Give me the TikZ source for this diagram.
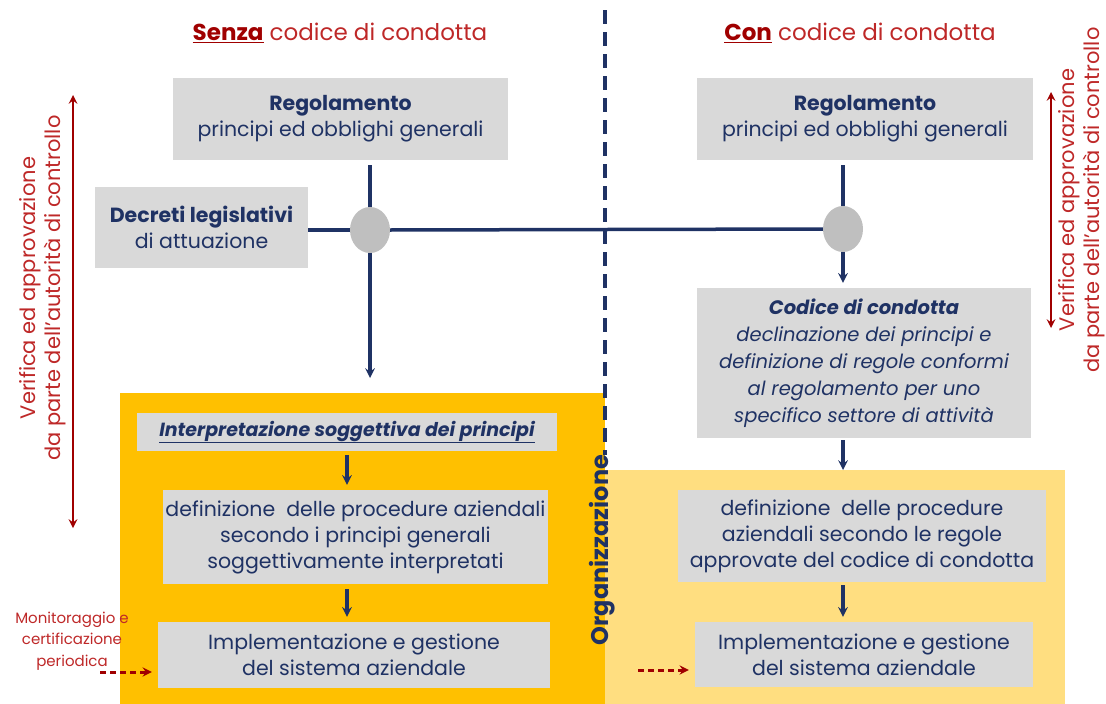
\documentclass[tikz,border=0pt]{standalone}
\usepackage{fontspec}
\setmainfont{Poppins}
\usepackage{tikz}
\usetikzlibrary{positioning, arrows, shapes.geometric}
\definecolor{navy}{RGB}{31,50,100}
\definecolor{boxgrey}{RGB}{217,217,217}
\definecolor{hubgrey}{RGB}{191,191,191}
\definecolor{darkred}{RGB}{160,0,0}
\definecolor{softred}{RGB}{190,40,40}
\definecolor{gold}{RGB}{255,192,0}
\definecolor{paleyellow}{RGB}{255,222,128}
\tikzset{
    x=1pt, y=-1pt, % one unit is one pixel of the layout
    >=stealth, % makes the arrow heads bold
    box/.style={fill=boxgrey, text=navy, align=center, inner sep=0pt, font=\fontsize{20.5}{26}\selectfont}, % grey text boxes
    hub/.style={ellipse, fill=hubgrey, minimum width=40, minimum height=46, inner sep=0pt},
    link/.style={navy, line width=3.5pt},
    flow/.style={->, navy, line width=3.2pt},
    check/.style={<->, darkred, line width=2.8pt},
    monitor/.style={->, darkred, line width=3pt, dash pattern=on 6pt off 4pt},
}
\begin{document}
\begin{tikzpicture}
\useasboundingbox (0,0) rectangle (1106,704);
% coloured areas
\fill[gold] (120,393) rectangle (605,704);
\fill[paleyellow] (605,470) rectangle (1065,704);
\draw[navy, line width=3.2pt, dash pattern=on 14pt off 8pt] (605,10) -- (605,455);

% titles
\node[text=softred, font=\fontsize{23}{27}\selectfont] (titleL) at (340,33) {\textcolor{darkred}{\underline{\textbf{Senza}}} codice di condotta};
\node[text=softred, font=\fontsize{23}{27}\selectfont] (titleR) at (860,33) {\textcolor{darkred}{\underline{\textbf{Con}}} codice di condotta};

% boxes
\node[box, minimum width=335, minimum height=82] (regL) at (340.5,119) {\textbf{Regolamento}\\principi ed obblighi generali};
\node[box, minimum width=336, minimum height=82] (regR) at (865,119) {\textbf{Regolamento}\\principi ed obblighi generali};
\node[box, minimum width=213, minimum height=81] (decreti) at (201.5,227.5) {\textbf{Decreti legislativi}\\di attuazione};
\node[box, minimum width=334, minimum height=150, font=\fontsize{19.5}{27}\selectfont\itshape] (codice) at (864,363)
    {\textbf{Codice di condotta}\\declinazione dei principi e\\definizione di regole conformi\\al regolamento per uno\\specifico settore di attività};
\node[box, minimum width=420, minimum height=38, font=\fontsize{19}{23}\selectfont\bfseries\itshape] (interp) at (347,432) {\underline{Interpretazione soggettiva dei principi}};
\node[box, minimum width=385, minimum height=94] (defL) at (355.5,537) {definizione\ \ delle procedure aziendali\\secondo i principi generali\\soggettivamente interpretati};
\node[box, minimum width=392, minimum height=66] (implL) at (354,655) {Implementazione e gestione\\del sistema aziendale};
\node[box, minimum width=368, minimum height=92] (defR) at (862,536) {definizione\ \ delle procedure\\aziendali secondo le regole\\approvate del codice di condotta};
\node[box, minimum width=338, minimum height=65] (implR) at (864,654.5) {Implementazione e gestione\\del sistema aziendale};

% junctions
\node[hub] (hubL) at (370,230) {};
\node[hub] (hubR) at (843,229) {};
\coordinate (endL) at (370,378);
\coordinate (endR) at (843,470);

% side notes
\node[rotate=90, text=softred, align=center, font=\fontsize{21}{25}\selectfont] (verL) at (43,288) {Verifica ed approvazione\\da parte dell'autorità di controllo};
\node[rotate=90, text=softred, align=center, font=\fontsize{21}{25}\selectfont] (verR) at (1082,200) {Verifica ed approvazione\\da parte dell'autorità di controllo};
\node[text=softred, align=center, font=\fontsize{15}{21.5}\selectfont] (monit) at (72,641) {Monitoraggio e\\certificazione\\periodica};
\node[rotate=90, text=navy, font=\fontsize{24}{28}\selectfont\bfseries] (org) at (602,550) {Organizzazione};
\coordinate (vtopL) at (73,95);
\coordinate (vbotL) at (73,528);
\coordinate (vtopR) at (1051,92);
\coordinate (vbotR) at (1051,328);
\coordinate (mstartL) at (100,672);
\coordinate (mstartR) at (638,670);

% connectors
\draw[link, shorten <=5pt] (regL.south -| hubL) -- (hubL);
\draw[link, shorten <=5pt] (regR.south -| hubR) -- (hubR);
\draw[link] (decreti.east |- hubL) -- (hubL.west);
\draw[link] (hubL.east) -- (hubR.west);
\draw[flow] (hubL.south) -- (endL);
\draw[flow, shorten >=5pt] (hubR.south) -- (hubR |- codice.north);
\draw[flow, shorten <=2pt] (codice.south -| hubR) -- (endR);
\draw[flow, shorten <=4pt, shorten >=5pt] (interp.south) -- (interp.south |- defL.north);
\draw[flow, shorten <=5pt, shorten >=5pt] (defL.south -| interp) -- (interp |- implL.north);
\draw[flow, shorten <=3pt, shorten >=5pt] (defR.south -| hubR) -- (hubR |- implR.north);
\draw[check] (vtopL) -- (vbotL);
\draw[check] (vtopR) -- (vbotR);
\draw[monitor, shorten >=6pt] (mstartL) -- (mstartL -| implL.west);
\draw[monitor, shorten >=6pt] (mstartR) -- (mstartR -| implR.west);
\end{tikzpicture}
\end{document}
